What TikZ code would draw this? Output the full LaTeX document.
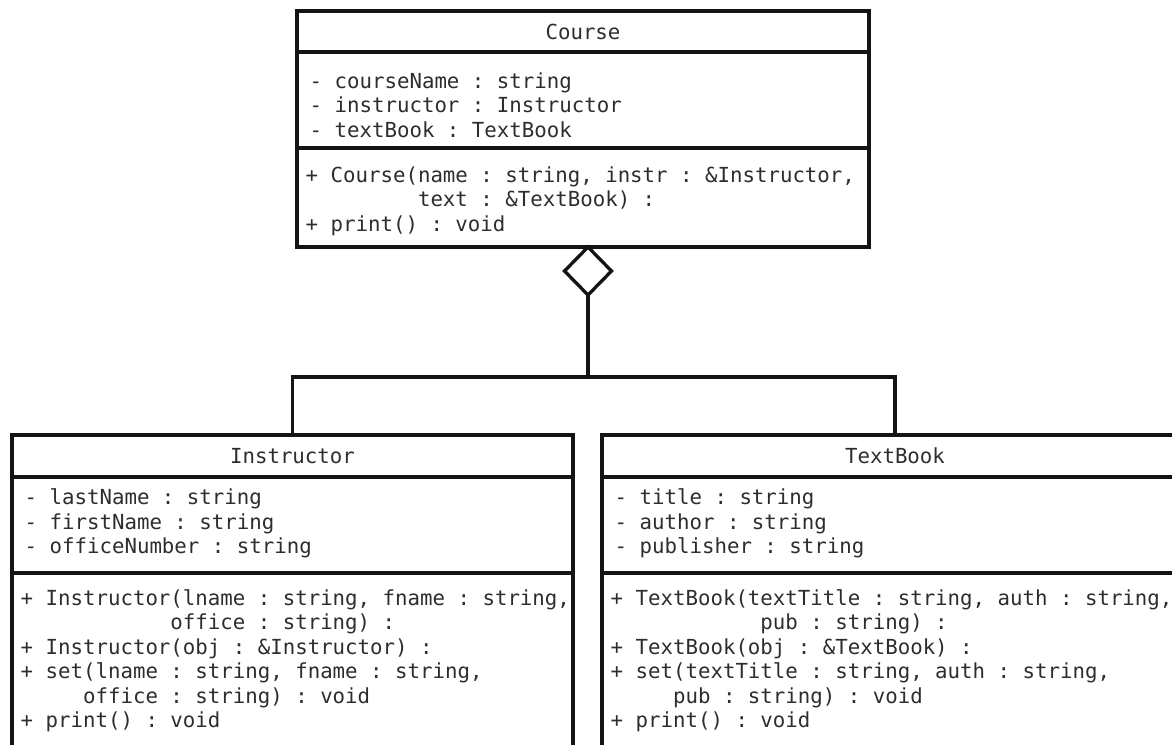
\documentclass[tikz,border=0pt]{standalone}
\usepackage{fontspec}
\setmonofont{DejaVu Sans Mono}
\usetikzlibrary{positioning, calc, shapes.geometric}
\definecolor{linecol}{RGB}{20,20,20}
\definecolor{textcol}{RGB}{45,45,45}
\newcommand{\pad}[1]{\hspace*{#1\dimexpr0.602em\relax}}

\begin{document}
\begin{tikzpicture}[
    line width=1.9pt,
    font=\ttfamily\fontsize{11.8}{14}\selectfont\frenchspacing,
    compart/.style={draw=linecol, rectangle, inner sep=0pt, outer sep=0pt, text=textcol},
    member/.style={anchor=base west, inner sep=0pt, text=textcol},
    link/.style={draw=linecol},
    aggdiamond/.style={draw=linecol, diamond, fill=white, inner sep=0pt, outer sep=0pt,
      minimum width=0.94cm, minimum height=0.96cm}
  ]
  \useasboundingbox (0,0) rectangle (23.44,-14.88);

  % --- Course class --------------------------------------------------
  \node[compart, minimum width=11.44cm, minimum height=0.82cm] (course-name) at (11.66,-0.63) {Course};
  \node[compart, minimum width=11.44cm, minimum height=1.92cm, below=0pt of course-name] (course-attr) {};
  \node[compart, minimum width=11.44cm, minimum height=1.98cm, below=0pt of course-attr] (course-ops) {};

  \foreach \txt [count=\i] in {{- courseName : string}, {- instructor : Instructor}, {- textBook : TextBook}}
    \node[member] (course-a\i) at ($(course-attr.north west)+(0.22,{-0.23-0.49*\i})$) {\txt};
  \foreach \txt [count=\i] in {{+ Course(name : string, instr : \&Instructor,},
      {\pad{9}text : \&TextBook) :}, {+ print() : void}}
    \node[member] (course-m\i) at ($(course-ops.north west)+(0.14,{-0.19-0.49*\i})$) {\txt};

  % --- Instructor class ----------------------------------------------
  \node[compart, minimum width=11.22cm, minimum height=0.84cm] (instr-name) at (5.85,-9.12) {Instructor};
  \node[compart, minimum width=11.22cm, minimum height=1.92cm, below=0pt of instr-name] (instr-attr) {};
  \node[compart, minimum width=11.22cm, minimum height=3.94cm, below=0pt of instr-attr] (instr-ops) {};

  \foreach \txt [count=\i] in {{- lastName : string}, {- firstName : string}, {- officeNumber : string}}
    \node[member] (instr-a\i) at ($(instr-attr.north west)+(0.22,{-0.06-0.49*\i})$) {\txt};
  \foreach \txt [count=\i] in {{+ Instructor(lname : string, fname : string,},
      {\pad{12}office : string) :}, {+ Instructor(obj : \&Instructor) :},
      {+ set(lname : string, fname : string,}, {\pad{5}office : string) : void},
      {+ print() : void}}
    \node[member] (instr-m\i) at ($(instr-ops.north west)+(0.14,{-0.15-0.49*\i})$) {\txt};

  % --- TextBook class ------------------------------------------------
  \node[compart, minimum width=11.72cm, minimum height=0.84cm] (book-name) at (17.9,-9.12) {TextBook};
  \node[compart, minimum width=11.72cm, minimum height=1.92cm, below=0pt of book-name] (book-attr) {};
  \node[compart, minimum width=11.72cm, minimum height=3.94cm, below=0pt of book-attr] (book-ops) {};

  \foreach \txt [count=\i] in {{- title : string}, {- author : string}, {- publisher : string}}
    \node[member] (book-a\i) at ($(book-attr.north west)+(0.22,{-0.06-0.49*\i})$) {\txt};
  \foreach \txt [count=\i] in {{+ TextBook(textTitle : string, auth : string,},
      {\pad{12}pub : string) :}, {+ TextBook(obj : \&TextBook) :},
      {+ set(textTitle : string, auth : string,}, {\pad{5}pub : string) : void},
      {+ print() : void}}
    \node[member] (book-m\i) at ($(book-ops.north west)+(0.14,{-0.15-0.49*\i})$) {\txt};

  % --- aggregation ---------------------------------------------------
  \node[aggdiamond, anchor=north] (agg) at ($(course-ops.south)+(0.1,0)$) {};
  \coordinate (join) at ($(agg.south)+(0,-1.64)$);
  \draw[link] (agg.south) -- (join);
  \draw[link] (instr-name.north) |- (join) -| (book-name.north);

\end{tikzpicture}
\end{document}
